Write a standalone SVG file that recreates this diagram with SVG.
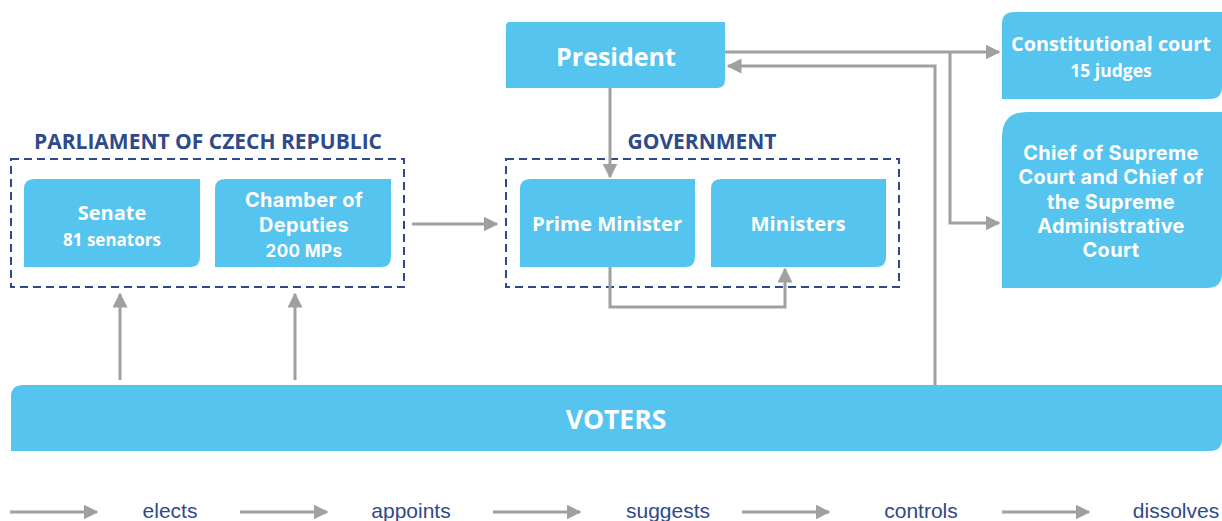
<svg xmlns="http://www.w3.org/2000/svg" width="1222" height="521" viewBox="0 0 1222 521">
<style>
.box{fill:#55C4EF}
.t{font-family:"Open Sans","Noto Sans",sans-serif;font-weight:bold;fill:#fff;text-anchor:middle}
.t2{font-family:Inter,"Open Sans",sans-serif;font-weight:bold;fill:#fff;text-anchor:middle;font-size:19.9px;letter-spacing:0.4px}
.h{font-family:"Open Sans","Noto Sans",sans-serif;font-weight:bold;fill:#2E4A8A;text-anchor:middle;font-size:21px}
.dash{fill:none;stroke:#2E4A8A;stroke-width:2;stroke-dasharray:8,5}
.c{fill:none;stroke:#A0A0A0;stroke-width:3}
.lg{font-family:"Liberation Sans",Arial,sans-serif;fill:#2E4A8A;font-size:21px;text-anchor:middle}
</style>
<defs>
<marker id="ah" viewBox="0 0 10 10" refX="9" refY="5" markerWidth="5" markerHeight="5" orient="auto" markerUnits="strokeWidth">
<path d="M0,0 L10,5 L0,10 z" fill="#A0A0A0"/>
</marker>
</defs>
<rect width="1222" height="521" fill="#fff"/>

<g id="parliament">
<text class="h" x="208" y="149">PARLIAMENT OF CZECH REPUBLIC</text>
<rect class="dash" x="11" y="159" width="393" height="128"/>
</g>
<g id="senate">
<path class="box" d="M34,179 H200 V257 Q200,267 190,267 H24 V189 Q24,179 34,179 Z"/>
<text class="t" x="112" y="220" font-size="20">Senate</text>
<text class="t" x="112" y="246" font-size="17">81 senators</text>
</g>
<g id="chamber">
<path class="box" d="M225,179 H391 V257 Q391,267 381,267 H215 V189 Q215,179 225,179 Z"/>
<text class="t2" x="304" y="207">Chamber of</text>
<text class="t2" x="304" y="232">Deputies</text>
<text class="t2" x="304" y="257" style="font-size:17px">200 MPs</text>
</g>

<g id="government">
<text class="h" x="702" y="149">GOVERNMENT</text>
<rect class="dash" x="506" y="159" width="393" height="128"/>
</g>
<g id="pm">
<path class="box" d="M530,179 H695 V257 Q695,267 685,267 H520 V189 Q520,179 530,179 Z"/>
<text class="t" x="607" y="231" font-size="20.3">Prime Minister</text>
</g>
<g id="ministers">
<path class="box" d="M721,179 H886 V257 Q886,267 876,267 H711 V189 Q711,179 721,179 Z"/>
<text class="t" x="798" y="231" font-size="20.3">Ministers</text>
</g>

<g id="president">
<path class="box" d="M510,22 H725 V80 Q725,88 717,88 H506 V26 Q506,22 510,22 Z"/>
<text class="t" x="616" y="66" font-size="25">President</text>
</g>

<g id="constitutional">
<path class="box" d="M1014,12 H1222 V87 Q1222,99 1210,99 H1002 V24 Q1002,12 1014,12 Z"/>
<text class="t" x="1111" y="51" font-size="19.8">Constitutional court</text>
<text class="t" x="1111" y="77" font-size="17.5">15 judges</text>
</g>

<g id="chief">
<path class="box" d="M1027,112 H1222 V273 Q1222,288 1207,288 H1002 V137 Q1002,112 1027,112 Z"/>
<text class="t2" x="1111" y="160">Chief of Supreme</text>
<text class="t2" x="1111" y="184.3">Court and Chief of</text>
<text class="t2" x="1111" y="208.6">the Supreme</text>
<text class="t2" x="1111" y="232.9">Administrative</text>
<text class="t2" x="1111" y="257.2">Court</text>
</g>

<g id="voters">
<path class="box" d="M23,385 H1222 V439 Q1222,451 1210,451 H11 V397 Q11,385 23,385 Z"/>
<text class="t" x="616" y="429" font-size="26.5">VOTERS</text>
</g>

<g id="connectors">
<path class="c" d="M120,380 V294" marker-end="url(#ah)"/>
<path class="c" d="M295,380 V294" marker-end="url(#ah)"/>
<path class="c" d="M412,224 H497" marker-end="url(#ah)"/>
<path class="c" d="M610,88 V177" marker-end="url(#ah)"/>
<path class="c" d="M610,267 V307 H785 V269" marker-end="url(#ah)"/>
<path class="c" d="M725,52 H999" marker-end="url(#ah)"/>
<path class="c" d="M950,52 V223 H999" marker-end="url(#ah)"/>
<path class="c" d="M935,385 V66 H728" marker-end="url(#ah)"/>
</g>

<g id="legend">
<path class="c" d="M10,512 H97" marker-end="url(#ah)"/>
<text class="lg" x="170" y="518">elects</text>
<path class="c" d="M240,512 H327" marker-end="url(#ah)"/>
<text class="lg" x="411" y="518">appoints</text>
<path class="c" d="M493,512 H580" marker-end="url(#ah)"/>
<text class="lg" x="668" y="518">suggests</text>
<path class="c" d="M742,512 H829" marker-end="url(#ah)"/>
<text class="lg" x="921" y="518">controls</text>
<path class="c" d="M1002,512 H1089" marker-end="url(#ah)"/>
<text class="lg" x="1176" y="518">dissolves</text>
</g>
</svg>
